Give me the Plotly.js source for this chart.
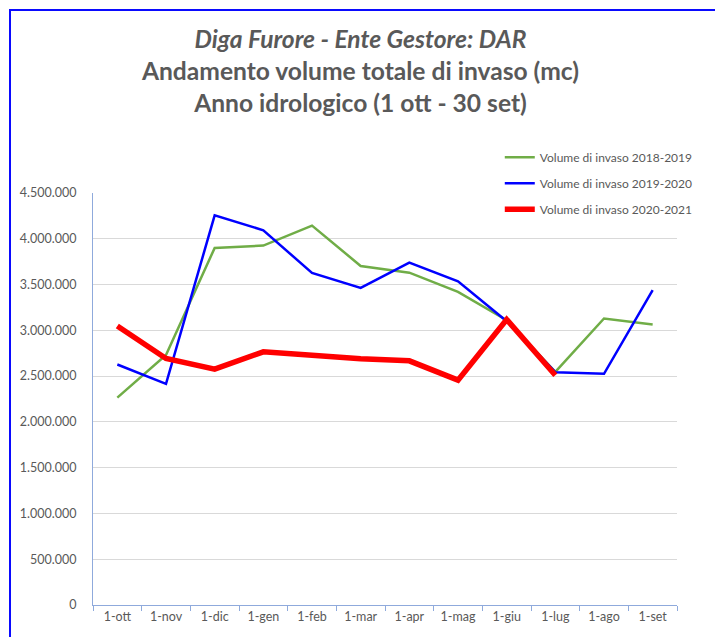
<!DOCTYPE html>
<html>
<head>
<meta charset="utf-8">
<script src="https://cdn.plot.ly/plotly-3.0.1.min.js"></script>
<style>
  html, body { margin: 0; padding: 0; background: #fff; }
  #wrap { position: relative; width: 715px; height: 637px; overflow: hidden; }
  #chart { width: 715px; height: 637px; }
  #frame { position: absolute; left: 9px; top: 9px; width: 900px; height: 900px;
           border-left: 2px solid #0a0aff; border-top: 2px solid #0a0aff; pointer-events: none; }
</style>
</head>
<body>
<div id="wrap">
  <div id="chart"></div>
  <div id="frame"></div>
</div>
<script>
// Categories (first day of each month, hydrological year)
const months = ["1-ott","1-nov","1-dic","1-gen","1-feb","1-mar","1-apr","1-mag","1-giu","1-lug","1-ago","1-set"];

// Volume di invaso (mc)
const vol2018_2019 = [2265000, 2730000, 3900000, 3926000, 4144000, 3703000, 3630000, 3420000, 3110000, 2546000, 3129000, 3063000];
const vol2019_2020 = [2627000, 2415000, 4256000, 4093000, 3627000, 3463000, 3740000, 3536000, 3100000, 2543000, 2525000, 3438000];
const vol2020_2021 = [3048000, 2692000, 2576000, 2765000, 2728000, 2690000, 2667000, 2456000, 3118000, 2510000, null, null];

const seriesNames = ["Volume di invaso 2018-2019", "Volume di invaso 2019-2020", "Volume di invaso 2020-2021"];

const font = "Lato, Calibri, 'Open Sans', sans-serif";
const grey = "#595959";

const traces = [
  { x: months, y: vol2018_2019, name: seriesNames[0], type: "scatter", mode: "lines",
    legendgroup: "a", line: { color: "#70AD47", width: 2.5 } },
  { x: months, y: vol2019_2020, name: seriesNames[1], type: "scatter", mode: "lines",
    legendgroup: "b", line: { color: "#0000FF", width: 2.5 } },
  { x: months, y: vol2020_2021, name: seriesNames[2], type: "scatter", mode: "lines",
    legendgroup: "c", line: { color: "#FF0000", width: 5.5 } }
];

const layout = {
  width: 715, height: 637,
  paper_bgcolor: "#ffffff", plot_bgcolor: "#ffffff",
  separators: ",.",
  margin: { l: 93, r: 38, t: 193, b: 32, pad: 0, autoexpand: false },
  font: { family: font, color: grey, size: 12 },
  title: {
    text: "<i>Diga Furore - Ente Gestore: DAR</i><br>Andamento volume totale di invaso (mc)<br>Anno idrologico (1 ott - 30 set)",
    font: { family: font, size: 24.6, color: grey, weight: "bold" },
    x: 0.458, xanchor: "center", xref: "paper",
    y: 0.924, yanchor: "top", yref: "container"
  },
  xaxis: {
    type: "category", range: [-0.5, 11.5],
    showgrid: false, zeroline: false,
    showline: true, linecolor: "#8FAADC", linewidth: 1,
    ticks: "outside", tickson: "boundaries", ticklen: 5, tickcolor: "#8FAADC",
    tickfont: { family: font, size: 12.5, color: grey },
    fixedrange: true
  },
  yaxis: {
    range: [0, 4500000], dtick: 500000, tick0: 0,
    tickformat: ",d",
    showgrid: true, gridcolor: "#D9D9D9", gridwidth: 1,
    zeroline: false,
    showline: true, linecolor: "#8FAADC", linewidth: 1,
    ticks: "", ticklabelstandoff: 13,
    tickfont: { family: font, size: 12.5, color: grey },
    fixedrange: true
  },
  showlegend: true,
  legend: {
    xref: "container", yref: "container",
    x: 0.699, xanchor: "left", y: 0.776, yanchor: "top",
    bgcolor: "rgba(0,0,0,0)", borderwidth: 0,
    traceorder: "grouped", tracegroupgap: 7,
    font: { family: font, size: 12, color: grey },
    itemwidth: 30
  }
};

Plotly.newPlot("chart", traces, layout, { displayModeBar: false, staticPlot: true });
</script>
</body>
</html>
